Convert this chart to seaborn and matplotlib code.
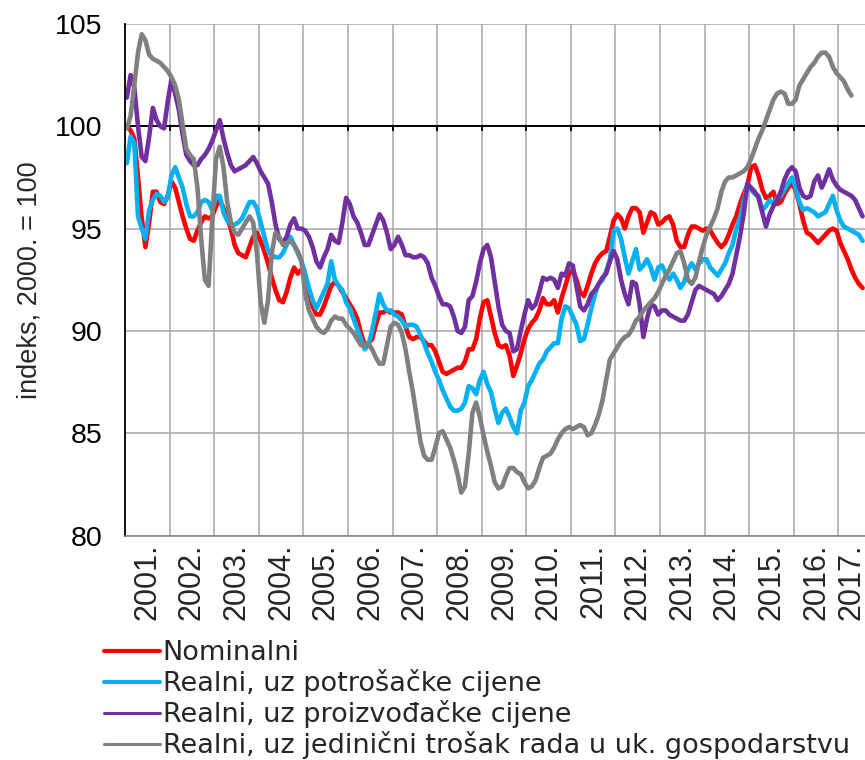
import numpy as np
import pandas as pd
import matplotlib
matplotlib.use("Agg")
from matplotlib import pyplot as plt
from matplotlib import transforms
from matplotlib.lines import Line2D
import seaborn as sns

# ---------------- DATA (monthly, from Jan 2001) -------------------------
nominalni = [
    100.0, 99.8, 99.4, 97.5, 95.5, 94.1, 95.3, 96.8, 96.8, 96.3, 96.2, 96.6,   # 2001
    97.3, 97.0, 96.3, 95.6, 95.0, 94.5, 94.4, 94.9, 95.3, 95.6, 95.5, 95.6,    # 2002
    96.1, 96.4, 96.0, 95.5, 95.0, 94.2, 93.8, 93.7, 93.6, 94.1, 94.6, 94.8,    # 2003
    94.4, 93.9, 93.3, 92.6, 92.0, 91.5, 91.4, 91.9, 92.6, 93.1, 92.8, 93.0,    # 2004
    92.6, 91.9, 91.2, 90.8, 90.8, 91.2, 91.7, 92.2, 92.4, 92.2, 91.9, 91.6,    # 2005
    91.3, 91.0, 90.6, 89.9, 89.3, 89.4, 89.6, 90.3, 90.9, 90.9, 91.0, 90.9,    # 2006
    90.9, 90.9, 90.8, 90.2, 89.7, 89.6, 89.7, 89.7, 89.5, 89.3, 89.3, 89.0,    # 2007
    88.5, 88.0, 87.9, 88.0, 88.1, 88.2, 88.2, 88.5, 89.1, 89.1, 89.6, 90.6,    # 2008
    91.4, 91.5, 90.7, 89.9, 89.3, 89.2, 89.3, 88.8, 87.8, 88.3, 88.9, 89.6,    # 2009
    90.1, 90.4, 90.6, 91.0, 91.6, 91.3, 91.3, 91.5, 90.9, 91.6, 92.2, 92.8,    # 2010
    93.0, 92.5, 91.9, 91.7, 92.2, 92.8, 93.3, 93.6, 93.8, 93.9, 94.6, 95.4,    # 2011
    95.7, 95.5, 95.0, 95.6, 96.0, 96.0, 95.8, 94.8, 95.3, 95.8, 95.7, 95.2,    # 2012
    95.3, 95.5, 95.6, 95.2, 94.4, 94.1, 94.1, 94.7, 95.1, 95.1, 95.0, 94.9,    # 2013
    95.0, 94.9, 94.6, 94.3, 94.1, 94.3, 94.7, 95.2, 95.6, 96.2, 96.7, 97.1,    # 2014
    98.0, 98.1, 97.6, 96.9, 96.5, 96.6, 96.8, 96.2, 96.3, 96.7, 97.0, 97.2,    # 2015
    96.9, 96.2, 95.4, 94.8, 94.7, 94.5, 94.3, 94.5, 94.7, 94.9, 95.0, 94.9,    # 2016
    94.3, 93.9, 93.5, 93.0, 92.6, 92.3, 92.1,                                  # 2017
]
potrosacke = [
    98.2, 99.5, 99.2, 95.6, 95.0, 94.5, 95.9, 96.4, 96.7, 96.6, 96.3, 96.5,
    97.6, 98.0, 97.5, 97.0, 96.2, 95.6, 95.6, 95.8, 96.3, 96.4, 96.3, 95.9,
    96.6, 96.6, 95.8, 95.4, 95.2, 95.2, 95.3, 95.5, 95.9, 96.3, 96.3, 96.0,
    95.3, 94.6, 93.9, 93.7, 93.6, 93.6, 93.8, 94.2, 94.6, 94.2, 93.8, 93.4,
    92.8, 92.1, 91.5, 91.1, 91.5, 91.9, 92.3, 93.4, 92.5, 92.2, 92.0, 91.4,
    91.1, 90.6, 90.1, 89.6, 89.1, 89.3, 90.0, 90.9, 91.8, 91.3, 91.0, 91.0,
    90.8, 90.7, 90.5, 90.2, 90.3, 90.3, 90.2, 89.8, 89.4, 88.9, 88.5, 88.0,
    87.6, 87.1, 86.7, 86.3, 86.1, 86.1, 86.2, 86.5, 87.3, 87.2, 86.9, 87.6,
    88.0, 87.4, 87.0, 86.2, 85.5, 86.0, 86.2, 85.8, 85.3, 85.0, 86.1, 86.5,
    87.3, 87.6, 88.0, 88.4, 88.6, 89.0, 89.2, 89.4, 89.4, 90.6, 91.2, 91.1,
    90.7, 90.3, 89.5, 89.6, 90.3, 91.1, 91.8, 92.3, 92.5, 92.9, 93.5, 94.9,
    95.0, 94.5, 93.6, 92.8, 93.4, 94.0, 93.0, 93.2, 93.5, 93.1, 92.5, 93.1,
    93.2, 92.8, 92.5, 92.8, 92.5, 92.1, 92.4, 93.0, 93.3, 93.0, 93.3, 93.5,
    93.5, 93.1, 92.9, 92.7, 93.0, 93.3, 93.8, 94.2, 95.0, 95.5, 96.3, 97.2,
    96.9, 96.7, 96.6, 95.9, 96.1, 96.4, 96.2, 96.5, 96.6, 96.9, 97.2, 97.5,
    97.0, 96.3, 95.9, 96.0, 95.9, 95.8, 95.6, 95.7, 95.8, 96.2, 96.6, 95.9,
    95.4, 95.1, 95.0, 94.9, 94.8, 94.7, 94.4,
]
proizvodacke = [
    101.4, 102.5, 101.9, 100.0, 98.5, 98.3, 99.5, 100.9, 100.3, 100.0, 99.9, 101.2,
    102.3, 101.6, 100.8, 99.6, 98.6, 98.3, 98.1, 98.1, 98.4, 98.6, 98.9, 99.3,
    99.8, 100.3, 99.4, 98.7, 98.1, 97.8, 97.9, 98.0, 98.1, 98.3, 98.5, 98.2,
    97.8, 97.5, 97.2, 96.3, 95.2, 94.5, 94.3, 94.6, 95.2, 95.5, 95.0, 95.0,
    94.9, 94.6, 94.1, 93.4, 93.1, 93.6, 94.0, 94.7, 94.4, 94.3, 95.3, 96.5,
    96.2, 95.6, 95.3, 94.8, 94.2, 94.2, 94.7, 95.2, 95.7, 95.4, 94.8, 94.0,
    94.2, 94.6, 94.2, 93.7, 93.7, 93.6, 93.6, 93.7, 93.6, 93.3, 92.6, 92.2,
    91.7, 91.3, 91.3, 91.2, 90.7, 90.0, 89.9, 90.2, 91.5, 91.7, 92.4, 93.3,
    94.0, 94.2, 93.6, 92.4, 91.2, 90.3, 90.0, 89.9, 89.0, 89.1, 90.0, 90.8,
    91.5, 91.1, 91.3, 91.9, 92.6, 92.5, 92.6, 92.5, 92.1, 92.8, 92.7, 93.3,
    93.2, 92.2, 91.2, 91.0, 91.3, 91.8, 92.0, 92.3, 92.6, 92.8, 93.4, 93.9,
    93.5, 92.5, 91.8, 91.3, 92.4, 92.3, 91.3, 89.7, 90.6, 91.3, 91.2, 90.8,
    91.0, 91.0, 90.8, 90.7, 90.6, 90.5, 90.5, 90.8, 91.4, 92.0, 92.2, 92.1,
    92.0, 91.9, 91.8, 91.5, 91.7, 92.0, 92.3, 92.8, 93.7, 94.6, 95.7, 97.2,
    97.0, 96.8, 96.5, 95.8, 95.1, 95.7, 96.1, 96.4, 96.8, 97.4, 97.8, 98.0,
    97.8, 97.0, 96.6, 96.5, 96.6, 97.3, 97.6, 97.0, 97.4, 97.9, 97.4, 97.1,
    96.9, 96.8, 96.7, 96.6, 96.4, 96.0, 95.6,
]
jedinicni = [
    99.9, 100.5, 102.0, 103.6, 104.5, 104.2, 103.5, 103.3, 103.2, 103.1, 102.9, 102.7,
    102.4, 102.0, 101.3, 100.1, 98.9, 98.6, 98.4, 97.0, 94.5, 92.5, 92.2, 95.5,
    98.4, 99.0, 98.0, 96.3, 95.3, 94.8, 94.7, 95.0, 95.3, 95.6, 95.3, 93.8,
    91.4, 90.4, 91.5, 93.8, 94.8, 94.6, 94.2, 94.3, 94.4, 94.2, 93.9, 93.4,
    91.8, 91.0, 90.6, 90.2, 90.0, 89.9, 90.1, 90.5, 90.7, 90.6, 90.6, 90.3,
    90.1, 89.9, 89.6, 89.3, 89.3, 89.4, 89.1, 88.7, 88.4, 88.4, 89.3, 90.2,
    90.4, 90.3, 89.9, 89.1, 88.0, 87.0, 85.8, 84.6, 83.9, 83.7, 83.7, 84.3,
    85.0, 85.1, 84.7, 84.3, 83.7, 83.0, 82.1, 82.4, 84.0, 86.0, 86.5, 85.8,
    84.9, 84.1, 83.4, 82.6, 82.3, 82.4, 82.9, 83.3, 83.3, 83.1, 83.0, 82.6,
    82.3, 82.4, 82.7, 83.3, 83.8, 83.9, 84.0, 84.3, 84.7, 85.0, 85.2, 85.3,
    85.2, 85.3, 85.4, 85.3, 84.9, 85.0, 85.4, 85.9, 86.6, 87.6, 88.6, 88.9,
    89.2, 89.5, 89.7, 89.8, 90.1, 90.5, 90.7, 91.0, 91.2, 91.4, 91.6, 91.9,
    92.3, 92.7, 93.0, 93.4, 93.8, 93.9, 93.3, 92.5, 92.3, 92.6, 93.4, 94.1,
    94.7, 95.1, 95.5, 96.0, 96.8, 97.3, 97.5, 97.5, 97.6, 97.7, 97.8, 98.0,
    98.4, 98.9, 99.4, 99.8, 100.3, 100.8, 101.3, 101.6, 101.7, 101.6, 101.1, 101.1,
    101.3, 102.0, 102.3, 102.6, 102.9, 103.1, 103.4, 103.6, 103.6, 103.4, 102.9, 102.6,
    102.4, 102.2, 101.8, 101.5,
]

serije = ["Nominalni",
          "Realni, uz potrošačke cijene",
          "Realni, uz proizvođačke cijene",
          "Realni, uz jedinični trošak rada u uk. gospodarstvu"]
boje = ["#FF0000", "#00B0F0", "#7030A0", "#808080"]
godine = list(range(2001, 2018))
oznake_godina = [f"{g}." for g in godine]

# ---------------- long table ---------------------------------------------
frames = []
for ime, vals in zip(serije, [nominalni, potrosacke, proizvodacke, jedinicni]):
    mj = 2001 + (np.arange(len(vals)) + 0.5) / 12
    frames.append(pd.DataFrame({"mjesec": mj, "indeks": vals, "serija": ime}))
df = pd.concat(frames, ignore_index=True)

# ---------------- plot ----------------------------------------------------
sns.set_style("white")
plt.rcParams['font.family'] = ['Liberation Sans', 'DejaVu Sans']

W, H = 865, 760
fig = plt.figure(figsize=(W / 100, H / 100), dpi=100)
ax = fig.add_axes([125 / W, 1 - 535.5 / H, 758 / W, 511.5 / H])

sns.lineplot(data=df, x="mjesec", y="indeks", hue="serija", hue_order=serije,
             palette=boje, linewidth=3.3, estimator=None, legend=False, ax=ax)

ax.set_xlim(2001, 2018)
ax.set_ylim(80, 105)
ax.set_axisbelow(True)

ax.set_yticks(range(80, 106, 5))
ax.tick_params(axis="y", length=7, width=1, pad=9, labelsize=20.5, colors="black", direction="out")

ax.set_xticks(range(2001, 2019))
ax.set_xticklabels([])
ax.set_xticks([g + 0.5 for g in godine], minor=True)
ax.set_xticklabels(oznake_godina, minor=True, rotation=90, fontsize=22)
ax.tick_params(axis="x", which="both", length=0, pad=6)

# last year label sits at the figure edge: nudge it inside
zadnja = ax.get_xticklabels(minor=True)[-1]
zadnja.set_transform(zadnja.get_transform() +
                     transforms.ScaledTranslation(-9 / 100, 0, fig.dpi_scale_trans))

ax.grid(True, axis="x", which="major", color="#a6a6a6", linewidth=1.1)
ax.grid(True, axis="y", which="major", color="#a6a6a6", linewidth=1.1)

# axis line at 100 with small tick marks
ax.axhline(100, color="black", linewidth=1.4, zorder=1.5)
ax.vlines(range(2002, 2019), 99.75, 100, color="black", linewidth=1.4, zorder=1.5)

for s in ["top", "right"]:
    ax.spines[s].set_visible(False)
ax.spines["left"].set_color("black")
ax.spines["left"].set_linewidth(1.3)
ax.spines["bottom"].set_color("#808080")
ax.spines["bottom"].set_linewidth(1.1)

ax.set_xlabel("")
ax.set_ylabel("")
fig.text(30 / W, 1 - 280 / H, "indeks, 2000. = 100", rotation=90,
         ha="center", va="center", fontsize=19.5)

handles = [Line2D([], [], color=c, linewidth=lw) for c, lw in zip(boje, [3, 3, 2.2, 2.2])]
fig.legend(handles, serije, loc="upper left", bbox_to_anchor=(104 / W, 1 - 640 / H),
           frameon=False, prop={"family": "DejaVu Sans", "size": 19.5},
           handlelength=2.05, handletextpad=0.12, labelspacing=0.115,
           borderpad=0, borderaxespad=0)

fig.savefig("out.png", dpi=100)
